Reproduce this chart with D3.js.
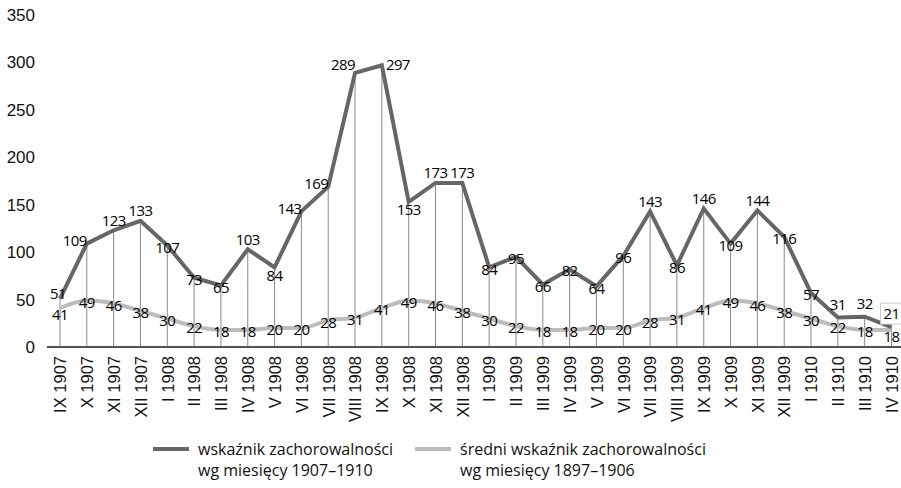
<!DOCTYPE html>
<html>
<head>
<meta charset="utf-8">
<script src="https://cdn.jsdelivr.net/npm/d3@7"></script>
<style>
  body { margin: 0; background: #fff; }
  svg { display: block; font-family: "Open Sans", "Noto Sans", sans-serif; }
</style>
</head>
<body>
<svg width="901" height="488"></svg>
<script>
// months on the x axis
var months = ['IX 1907', 'X 1907', 'XI 1907', 'XII 1907',
  'I 1908', 'II 1908', 'III 1908', 'IV 1908', 'V 1908', 'VI 1908', 'VII 1908', 'VIII 1908', 'IX 1908', 'X 1908', 'XI 1908', 'XII 1908',
  'I 1909', 'II 1909', 'III 1909', 'IV 1909', 'V 1909', 'VI 1909', 'VII 1909', 'VIII 1909', 'IX 1909', 'X 1909', 'XI 1909', 'XII 1909',
  'I 1910', 'II 1910', 'III 1910', 'IV 1910'];

// wskaźnik zachorowalności 1907-1910
var rate = [51, 109, 123, 133, 107, 73, 65, 103, 84, 143, 169, 289, 297, 153, 173, 173,
  84, 95, 66, 82, 64, 96, 143, 86, 146, 109, 144, 116, 57, 31, 32, 21];

// średni wskaźnik 1897-1906
var avgRate = [41, 49, 46, 38, 30, 22, 18, 18, 20, 20, 28, 31, 41, 49, 46, 38,
  30, 22, 18, 18, 20, 20, 28, 31, 41, 49, 46, 38, 30, 22, 18, 18];

var yTicks = [0, 50, 100, 150, 200, 250, 300, 350];

var seriesNames = [['wskaźnik zachorowalności', 'wg miesięcy 1907–1910'],
  ['średni wskaźnik zachorowalności', 'wg miesięcy 1897–1906']];

// where the label of the dark line sits: c = on point, a = above, b = below, l = left, r = right, t = just above
var labelSide = ['t', 'l', 'a', 'a', 'c', 'c', 'c', 'a', 'b', 'l', 'l', 'l', 'r', 'b', 'a', 'a',
  'c', 'c', 'c', 'c', 'c', 'c', 'a', 'c', 'a', 'c', 'a', 'c', 'c', 'a', 'a', 'a'];
// light line labels: c = on point, b = below
var avgSide = ['b', 'c', 'c', 'c', 'c', 'c', 'c', 'c', 'c', 'c', 'c', 'c', 'c', 'c', 'c', 'c',
  'c', 'c', 'c', 'c', 'c', 'c', 'c', 'c', 'c', 'c', 'c', 'c', 'c', 'c', 'c', 'b'];

var DARK = '#666666', LIGHT = '#bcbcbc';

var svg = d3.select('svg');

var x = d3.scalePoint().domain(months).range([60, 891.5]);
var y = d3.scaleLinear().domain([0, 350]).range([347, 15]);

// y tick labels, no axis line
var yAxis = d3.axisLeft(y).tickValues(yTicks).tickSize(0).tickPadding(0);
var gy = svg.append('g').attr('transform', 'translate(35,0)').call(yAxis);
gy.select('.domain').remove();
gy.selectAll('text').attr('font-size', 17).attr('fill', '#111').attr('font-family', null);

// drop lines
svg.append('g').selectAll('line').data(rate).enter().append('line')
  .attr('x1', function (d, i) { return x(months[i]); })
  .attr('x2', function (d, i) { return x(months[i]); })
  .attr('y1', function (d) { return y(d); })
  .attr('y2', y(0))
  .attr('stroke', '#8a8a8a').attr('stroke-width', 1);

// x axis
var xAxis = d3.axisBottom(x).tickSize(0).tickPadding(0);
var gx = svg.append('g').attr('transform', 'translate(0,' + y(0) + ')').call(xAxis);
gx.select('.domain').attr('d', 'M47,0H901').attr('stroke', '#555').attr('stroke-width', 2);
gx.selectAll('text')
  .attr('font-size', 16.5).attr('fill', '#111').attr('font-family', null)
  .attr('transform', 'rotate(-90)')
  .attr('text-anchor', 'end')
  .attr('x', -9).attr('y', 0).attr('dy', '0.35em');

// light (average) line
var smooth = d3.line()
  .x(function (d, i) { return x(months[i]); })
  .y(function (d) { return y(d); })
  .curve(d3.curveMonotoneX);
svg.append('path').datum(avgRate).attr('d', smooth)
  .attr('fill', 'none').attr('stroke', LIGHT).attr('stroke-width', 4);

// dark line
var straight = d3.line()
  .x(function (d, i) { return x(months[i]); })
  .y(function (d) { return y(d); });
svg.append('path').datum(rate).attr('d', straight)
  .attr('fill', 'none').attr('stroke', DARK).attr('stroke-width', 4).attr('stroke-linejoin', 'miter');

// labels
var offs = { c: [0, 2], a: [0, -10], b: [0, 8], l: [-12, -3], r: [16, -1], t: [-2, -5] };

svg.append('g').selectAll('text').data(avgRate).enter().append('text')
  .attr('x', function (d, i) { return x(months[i]); })
  .attr('y', function (d, i) { return y(d) + (avgSide[i] === 'b' ? 7 : 2); })
  .attr('dy', '0.35em').attr('text-anchor', 'middle')
  .attr('font-size', 15).attr('font-weight', 500).attr('letter-spacing', -0.6).attr('fill', '#000')
  .text(function (d) { return d; });

var lbl = svg.append('g').selectAll('g').data(rate).enter().append('g')
  .attr('transform', function (d, i) {
    var o = offs[labelSide[i]];
    var extra = (i >= rate.length - 3) ? -3 : (i === 11 ? -5 : 0);
    return 'translate(' + (x(months[i]) + o[0]) + ',' + (y(d) + o[1] + extra) + ')';
  });
lbl.filter(function (d, i) { return i === rate.length - 1; }).append('rect')
  .attr('x', -11).attr('y', -11).attr('width', 22).attr('height', 21)
  .attr('fill', '#fff').attr('stroke', '#ccc').attr('stroke-width', 1);
lbl.append('text')
  .attr('dy', '0.35em').attr('text-anchor', 'middle')
  .attr('font-size', 15).attr('font-weight', 500).attr('letter-spacing', -0.6).attr('fill', '#000')
  .text(function (d) { return d; });

// legend
var legend = svg.append('g');
var legX = [153, 415];
[DARK, LIGHT].forEach(function (c, k) {
  legend.append('line')
    .attr('x1', legX[k]).attr('x2', legX[k] + 36)
    .attr('y1', 449).attr('y2', 449)
    .attr('stroke', c).attr('stroke-width', 4);
  var t = legend.append('text')
    .attr('x', legX[k] + 45).attr('y', 449)
    .attr('font-size', 16).attr('fill', '#111');
  t.append('tspan').attr('x', legX[k] + 45).attr('dy', '0.35em').text(seriesNames[k][0]);
  t.append('tspan').attr('x', legX[k] + 45).attr('dy', 21).text(seriesNames[k][1]);
});
</script>
</body>
</html>
